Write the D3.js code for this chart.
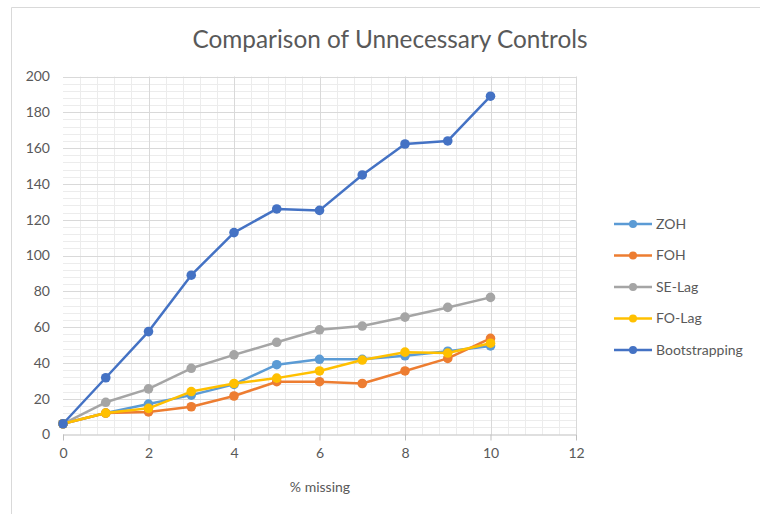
<!DOCTYPE html>
<html>
<head>
<meta charset="utf-8">
<script src="https://cdn.jsdelivr.net/npm/d3@7"></script>
<style>
  html, body { margin: 0; padding: 0; background: #fff; }
  svg { display: block; }
  text { font-family: Lato, "Open Sans", sans-serif; fill: #595959; }
</style>
</head>
<body>
<svg id="chart" width="760" height="514"></svg>
<script>
// ---- Data ----
const xValues = [0, 1, 2, 3, 4, 5, 6, 7, 8, 9, 10];
const seriesNames = ["ZOH", "FOH", "SE-Lag", "FO-Lag", "Bootstrapping"];
const zoh = [6, 12, 17, 22, 28, 39, 42, 42, 44, 46.5, 49.5];
const foh = [6, 12, 12.6, 15.5, 21.5, 29.5, 29.5, 28.5, 35.5, 42.5, 53.7];
const seLag = [6, 18, 25.5, 37, 44.5, 51.5, 58.5, 60.6, 65.6, 71, 76.6];
const foLag = [6, 12, 14.6, 24, 28.5, 31.5, 35.5, 41.6, 46, 45.5, 51];
const bootstrapping = [6, 31.7, 57.5, 89, 112.8, 126, 125.2, 145, 162.3, 164, 189];
const seriesColors = ["#5B9BD5", "#ED7D31", "#A5A5A5", "#FFC000", "#4472C4"];
const xTicks = [0, 2, 4, 6, 8, 10, 12];
const yTicks = [0, 20, 40, 60, 80, 100, 120, 140, 160, 180, 200];
const titleText = "Comparison of Unnecessary Controls";
const xAxisTitle = "% missing";

const seriesData = [zoh, foh, seLag, foLag, bootstrapping];

// ---- Layout ----
const svg = d3.select("#chart");
const plot = { left: 63, right: 576, top: 76.5, bottom: 434.5 };

const x = d3.scaleLinear().domain([0, 12]).range([plot.left, plot.right]);
const y = d3.scaleLinear().domain([0, 200]).range([plot.bottom, plot.top]);

// Chart border (left and top visible)
svg.append("line").attr("x1", 11.5).attr("x2", 11.5).attr("y1", 7.5).attr("y2", 514)
  .attr("stroke", "#d9d9d9").attr("stroke-width", 1);
svg.append("line").attr("x1", 11.5).attr("x2", 760).attr("y1", 7.5).attr("y2", 7.5)
  .attr("stroke", "#d9d9d9").attr("stroke-width", 1);

// Title
const title = svg.append("text")
  .attr("x", 390).attr("y", 48)
  .attr("text-anchor", "middle")
  .style("font-size", "23px")
  .text(titleText);
const tw = title.node().getComputedTextLength();
title.style("font-size", (23 * 395 / tw).toFixed(2) + "px");

// Minor gridlines
const g = svg.append("g");
const minorX = d3.range(0, 12.0001, 0.4).filter(v => Math.abs(v / 2 - Math.round(v / 2)) > 1e-6);
const minorY = d3.range(0, 200.0001, 4).filter(v => v % 20 !== 0);
g.selectAll(".mx").data(minorX).join("line")
  .attr("x1", d => Math.round(x(d)) + 0.5).attr("x2", d => Math.round(x(d)) + 0.5)
  .attr("y1", plot.top).attr("y2", plot.bottom)
  .attr("stroke", "#ececec").attr("stroke-width", 1);
g.selectAll(".my").data(minorY).join("line")
  .attr("x1", plot.left).attr("x2", plot.right)
  .attr("y1", d => Math.round(y(d)) + 0.5).attr("y2", d => Math.round(y(d)) + 0.5)
  .attr("stroke", "#ececec").attr("stroke-width", 1);

// Major gridlines
g.selectAll(".Mx").data(xTicks.slice(1)).join("line")
  .attr("x1", d => Math.round(x(d)) + 0.5).attr("x2", d => Math.round(x(d)) + 0.5)
  .attr("y1", plot.top).attr("y2", plot.bottom)
  .attr("stroke", "#d9d9d9").attr("stroke-width", 1);
g.selectAll(".My").data(yTicks.slice(1)).join("line")
  .attr("x1", plot.left).attr("x2", plot.right)
  .attr("y1", d => Math.round(y(d)) + 0.5).attr("y2", d => Math.round(y(d)) + 0.5)
  .attr("stroke", "#d9d9d9").attr("stroke-width", 1);

// Axes
const xAxis = d3.axisBottom(x).tickValues(xTicks).tickSize(6).tickPadding(8).tickFormat(d3.format("d"));
const xg = svg.append("g").attr("transform", `translate(0,${plot.bottom})`).call(xAxis);
xg.select(".domain").attr("stroke", "#bfbfbf").attr("d", `M${plot.left},0.5H${plot.right}`);
xg.selectAll(".tick line").attr("stroke", "#bfbfbf");
xg.selectAll("text").style("font-size", "14px").style("font-family", "Lato, sans-serif").attr("fill", "#595959");

const yAxis = d3.axisLeft(y).tickValues(yTicks).tickSize(0).tickPadding(13);
const yg = svg.append("g").attr("transform", `translate(${plot.left},0)`).call(yAxis);
yg.select(".domain").remove();
yg.selectAll("text").style("font-size", "14px").style("font-family", "Lato, sans-serif").attr("fill", "#595959");

// X axis title
svg.append("text").attr("x", 320).attr("y", 492).attr("text-anchor", "middle")
  .style("font-size", "14px").text(xAxisTitle);

// Series
const line = d3.line().x((d, i) => x(xValues[i])).y(d => y(d));
seriesData.forEach((vals, si) => {
  const sg = svg.append("g");
  sg.append("path").datum(vals).attr("d", line)
    .attr("fill", "none").attr("stroke", seriesColors[si])
    .attr("stroke-width", 2.5).attr("stroke-linejoin", "round").attr("stroke-linecap", "round");
  sg.selectAll("circle").data(vals).join("circle")
    .attr("cx", (d, i) => x(xValues[i])).attr("cy", d => y(d))
    .attr("r", 4.8).attr("fill", seriesColors[si]);
});

// Legend
const legendY = [224, 255.5, 287, 318.5, 350];
const lg = svg.append("g");
seriesNames.forEach((name, i) => {
  const ly = legendY[i];
  lg.append("line").attr("x1", 614).attr("x2", 652).attr("y1", ly).attr("y2", ly)
    .attr("stroke", seriesColors[i]).attr("stroke-width", 2.5);
  lg.append("circle").attr("cx", 633).attr("cy", ly).attr("r", 4).attr("fill", seriesColors[i]);
  lg.append("text").attr("x", 656).attr("y", ly).attr("dy", "0.35em")
    .style("font-size", "14px").text(name);
});
</script>
</body>
</html>
